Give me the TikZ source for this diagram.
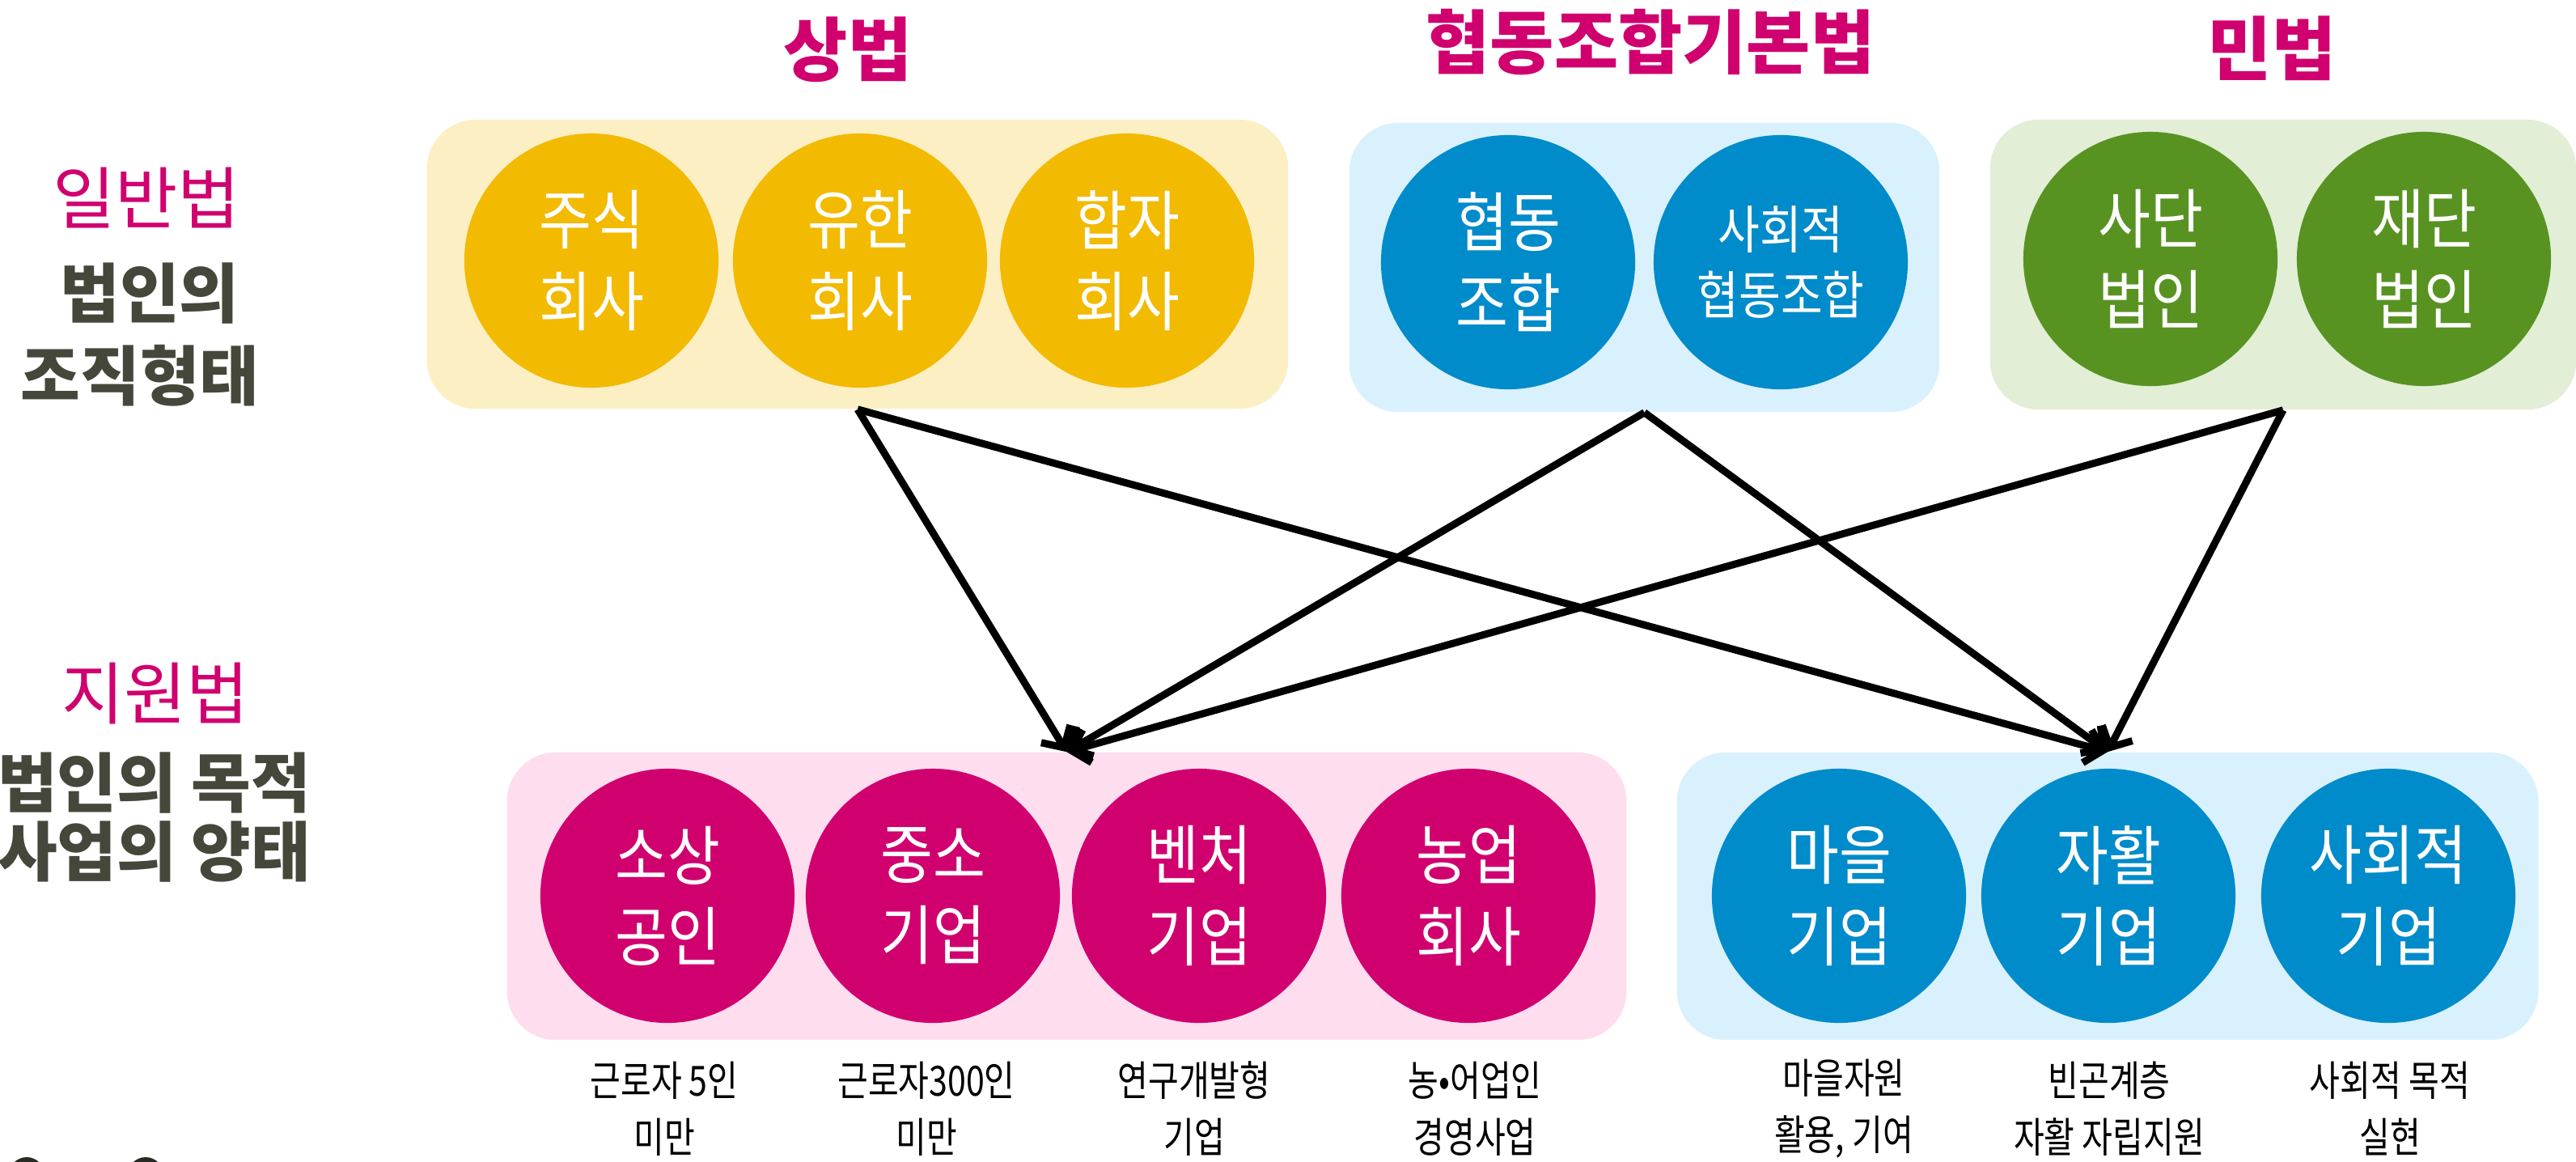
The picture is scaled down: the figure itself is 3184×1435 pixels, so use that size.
\documentclass[tikz,border=0pt]{standalone}
\usepackage{fontspec}
\usetikzlibrary{arrows.meta}
\newfontfamily\kr{Noto Sans CJK KR}
\newfontfamily\krC{Noto Sans CJK KR}[FakeStretch=0.88]
\newfontfamily\krD{Noto Sans CJK KR}[FakeStretch=0.8]
\definecolor{yBox}{HTML}{FDEFC4}
\definecolor{yCirc}{HTML}{F2BA00}
\definecolor{bBox}{HTML}{D9F1FC}
\definecolor{bCirc}{HTML}{008BCA}
\definecolor{gBox}{HTML}{E2EED6}
\definecolor{gCirc}{HTML}{589322}
\definecolor{pBox}{HTML}{FDDDEE}
\definecolor{pCirc}{HTML}{D0006F}
\definecolor{mag}{HTML}{D0006F}
\definecolor{darkol}{HTML}{45473A}
\tikzset{
  grp/.style={rounded corners=0.6cm, inner sep=0pt},
  circ/.style={circle, minimum size=3.14cm, inner sep=0pt, text=white, align=center,
    font=\krC\fontsize{22.8pt}{28.5pt}\selectfont},
  circS/.style={circ, font=\krC\fontsize{18.2pt}{23.3pt}\selectfont},
  ttl/.style={inner sep=0pt, text=mag, font=\kr\bfseries\fontsize{24.5pt}{28pt}\selectfont},
  lawlbl/.style={inner sep=0pt, text=mag, font=\kr\fontsize{23.9pt}{28pt}\selectfont},
  kindlbl/.style={inner sep=0pt, text=darkol, font=\kr\bfseries\fontsize{22.8pt}{28pt}\selectfont},
  desc/.style={inner sep=0pt, align=center, text=black, font=\krD\fontsize{14.6pt}{20pt}\selectfont},
  arr/.style={line width=2.56pt, -{Straight Barb[length=0.2cm, width=0.42cm]}}
}
\begin{document}
\begin{tikzpicture}[x=0.01cm, y=-0.01cm]
\useasboundingbox (0,0) rectangle (3184,1435);
% titles
\node[ttl] (t1) at (1048,61) {상법};
\node[ttl] (t2) at (2040,52) {협동조합기본법};
\node[ttl] (t3) at (2808,60) {민법};
% left labels
\node[lawlbl] (l1) at (181,245) {일반법};
\node[kindlbl] (l2) at (185,362) {법인의};
\node[kindlbl] (l3) at (173,464) {조직형태};
\node[lawlbl] (l4) at (192,857) {지원법};
\node[kindlbl, anchor=east] (l5) at (385,967) {법인의 목적};
\node[kindlbl, anchor=east] (l6) at (385,1052) {사업의 양태};
% top group boxes
\node[grp, fill=yBox, minimum width=10.64cm, minimum height=3.57cm] (sb) at (1060,326.5) {};
\node[grp, fill=bBox, minimum width=7.29cm, minimum height=3.57cm] (hb) at (2032.5,330.5) {};
\node[grp, fill=gBox, minimum width=7.24cm, minimum height=3.58cm] (mb) at (2822,327) {};
% top circles
\node[circ, fill=yCirc] (c1) at (731,322) {주식\\회사};
\node[circ, fill=yCirc] (c2) at (1063,322) {유한\\회사};
\node[circ, fill=yCirc] (c3) at (1393,322) {합자\\회사};
\node[circ, fill=bCirc] (c4) at (1864,324) {협동\\조합};
\node[circS, fill=bCirc] (c5) at (2201,324) {사회적\\협동조합};
\node[circ, fill=gCirc] (c6) at (2658,320) {사단\\법인};
\node[circ, fill=gCirc] (c7) at (2996,320) {재단\\법인};
% bottom group boxes
\node[grp, fill=pBox, minimum width=13.83cm, minimum height=3.55cm] (pk) at (1318.5,1107.5) {};
\node[grp, fill=bBox, minimum width=10.64cm, minimum height=3.55cm] (bl) at (2605,1107.5) {};
% bottom circles
\node[circ, fill=pCirc] (d1) at (825,1107) {소상\\공인};
\node[circ, fill=pCirc] (d2) at (1153,1107) {중소\\기업};
\node[circ, fill=pCirc] (d3) at (1482,1107) {벤처\\기업};
\node[circ, fill=pCirc] (d4) at (1815,1107) {농업\\회사};
\node[circ, fill=bCirc] (d5) at (2273,1107) {마을\\기업};
\node[circ, fill=bCirc] (d6) at (2606,1107) {자활\\기업};
\node[circ, fill=bCirc] (d7) at (2952,1107) {사회적\\기업};
% descriptions
\node[desc] (e1) at (821,1370) {근로자 5인\\미만};
\node[desc] (e2) at (1145,1370) {근로자300인\\미만};
\node[desc] (e3) at (1476,1370) {연구개발형\\기업};
\node[desc] (e4) at (1823,1370) {농•어업인\\경영사업};
\node[desc] (e5) at (2279,1370) {마을자원\\활용, 기여};
\node[desc] (e6) at (2607,1370) {빈곤계층\\자활 자립지원};
\node[desc] (e7) at (2954,1370) {사회적 목적\\실현};
% arrows
\draw[arr] (sb.south) -- (pk.north);
\draw[arr] (sb.south) -- (bl.north);
\draw[arr] (hb.south) -- (pk.north);
\draw[arr] (hb.south) -- (bl.north);
\draw[arr] (mb.south) -- (pk.north);
\draw[arr] (mb.south) -- (bl.north);
% cut-off marks at bottom-left edge
\fill[darkol!60!black] (33,1452) circle (22);
\fill[darkol!60!black] (180,1452) circle (22);
\end{tikzpicture}
\end{document}
